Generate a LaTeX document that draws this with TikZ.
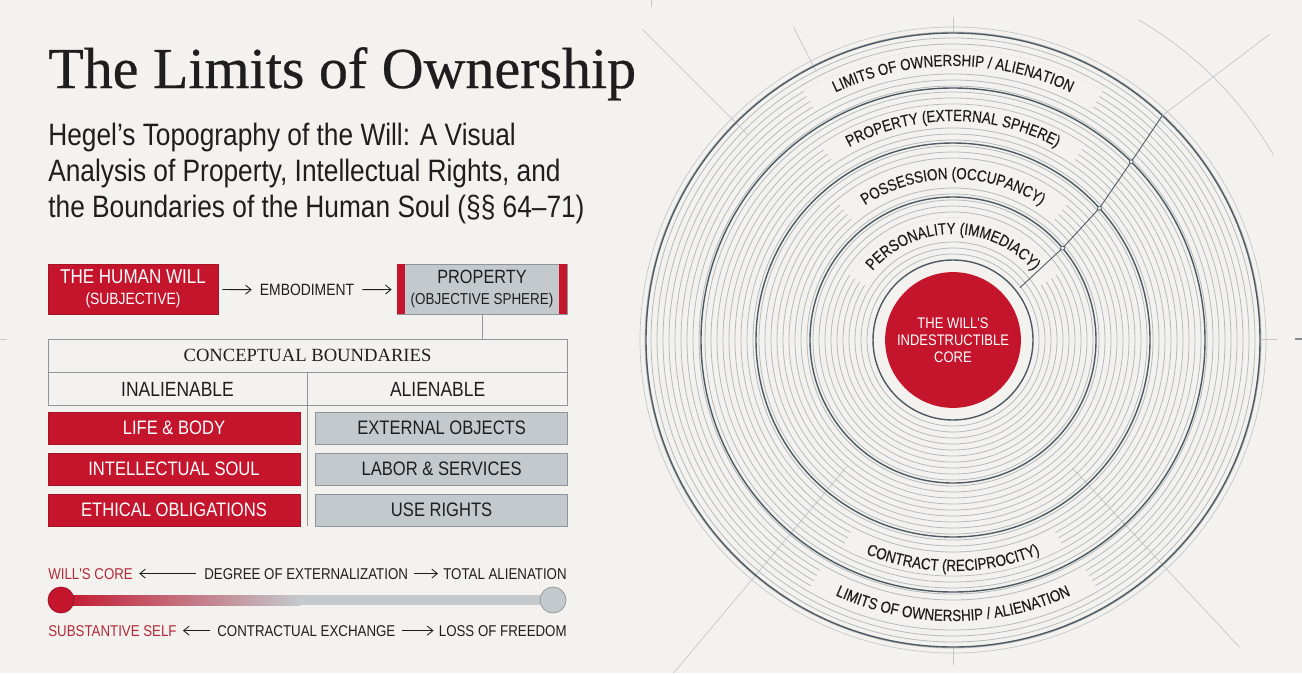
\documentclass[tikz,border=0pt]{standalone}
\usepackage{fontspec}
\setmainfont{Liberation Serif}
\newfontfamily\titlefont[FakeBold=0.5]{Liberation Serif}
\newfontfamily\condsans[FakeStretch=0.85]{Liberation Sans}
\newfontfamily\ringsans[FakeStretch=0.83, FakeBold=0.3]{Liberation Sans}
\usetikzlibrary{arrows.meta, positioning, calc, decorations.text}
\definecolor{paper}{HTML}{F3F2EE}
\definecolor{willRed}{HTML}{C4152D}
\definecolor{redText}{HTML}{B3293A}
\definecolor{cellGrey}{HTML}{C4C9CD}
\definecolor{cellEdge}{HTML}{8E959B}
\definecolor{inkDark}{HTML}{1E1E1E}
\definecolor{ringLight}{HTML}{B4B9BE}
\definecolor{ringDark}{HTML}{4D5963}

\begin{document}
\begin{tikzpicture}[x=0.02cm, y=0.02cm,
  redbox/.style={fill=willRed, draw=willRed!85!black, text=white, minimum width=3.4cm,
                 minimum height=1cm, align=center, inner sep=0pt, font=\condsans},
  greybox/.style={fill=cellGrey, draw=cellEdge, text=inkDark, minimum width=3.4cm,
                  minimum height=1cm, align=center, inner sep=0pt, font=\condsans},
  cellred/.style={fill=willRed, draw=willRed!85!black, text=white, minimum width=5.04cm,
                  minimum height=0.64cm, inner sep=0pt, font=\condsans\fontsize{11.1}{13}\selectfont},
  cellgrey/.style={fill=cellGrey, draw=cellEdge, text=inkDark, minimum width=5.04cm,
                   minimum height=0.64cm, inner sep=0pt, font=\condsans\fontsize{11.1}{13}\selectfont},
  tcell/.style={draw=cellEdge, minimum height=0.66cm, inner sep=0pt, text=inkDark},
  scl/.style={inner sep=0pt, font=\condsans\fontsize{8.9}{10}\selectfont, text=inkDark},
  a/.style={-{Straight Barb[length=1.1mm, width=1.8mm]}, line width=0.5pt, draw=inkDark},
  thinring/.style={draw=ringLight, line width=0.45pt},
  darkring/.style={draw=ringDark, line width=0.8pt},
  faint/.style={draw=ringLight!80, line width=0.4pt},
  gap/.style={draw=paper, line width=0.42cm},
  ringtxt/.style={decorate, decoration={text along path, text align=center,
                  text={|\ringsans\fontsize{9.2}{11}\selectfont\color{inkDark}|#1}}}
]
\fill[paper] (0,0) rectangle (1302,-673);
\useasboundingbox (0,0) rectangle (1302,-673);

% crop marks
\draw[faint] (0,-339) -- (7,-339);
\draw[faint] (1262,-339) -- (1277,-339);
\draw[ringDark!70, line width=0.6pt] (1295,-339) -- (1302,-339);
\draw[faint] (651,0) -- (651,-7);

% title block
\node[anchor=base west, inner sep=0pt, text=inkDark, font=\titlefont\fontsize{33}{36}\selectfont] (title) at (48,-88) {The Limits of Ownership};
\node[anchor=base west, inner sep=0pt, text=inkDark, font=\condsans\fontsize{17.6}{20}\selectfont] (sub1) at (48,-145) {Hegel’s Topography of the Will: A Visual};
\node[anchor=base west, inner sep=0pt, text=inkDark, font=\condsans\fontsize{17.6}{20}\selectfont] (sub2) at (48,-181) {Analysis of Property, Intellectual Rights, and};
\node[anchor=base west, inner sep=0pt, text=inkDark, font=\condsans\fontsize{17.6}{20}\selectfont] (sub3) at (48,-217) {the Boundaries of the Human Soul (§§ 64–71)};

% will -> property
\node[redbox] (will) at (133,-289) {{\fontsize{11.4}{13}\selectfont THE HUMAN WILL}\\{\fontsize{9.3}{10}\selectfont (SUBJECTIVE)}};
\node[font=\condsans\fontsize{9.3}{11}\selectfont, text=inkDark] (emb) at (307,-290) {EMBODIMENT};
\node[greybox] (prop) at (482,-289) {{\fontsize{10.9}{13}\selectfont PROPERTY}\\{\fontsize{9}{10}\selectfont (OBJECTIVE SPHERE)}};
\fill[willRed] (prop.north west) rectangle ([xshift=0.16cm]prop.south west);
\fill[willRed] (prop.north east) rectangle ([xshift=-0.16cm]prop.south east);
\draw[a, shorten <=0.08cm, shorten >=0.04cm] (will) -- (emb);
\draw[a, shorten <=0.04cm, shorten >=0.1cm] (emb) -- (prop);

% boundaries table
\node[tcell, minimum width=10.38cm, font=\fontsize{10.6}{12}\selectfont] (hdr) at (307.5,-355.5) {CONCEPTUAL BOUNDARIES};
\node[tcell, minimum width=5.18cm, anchor=north west, font=\condsans\fontsize{11.7}{13}\selectfont] (inal) at (hdr.south west) {INALIENABLE};
\node[tcell, minimum width=5.2cm, anchor=north west, font=\condsans\fontsize{11.7}{13}\selectfont] (alien) at (inal.north east) {ALIENABLE};
\draw[cellEdge] (prop.south) -- (prop.south |- hdr.north);

\node[cellred] (life) at (174,-428) {LIFE \& BODY};
\node[cellred, below=0.17cm of life] (soul) {INTELLECTUAL SOUL};
\node[cellred, below=0.16cm of soul] (ethic) {ETHICAL OBLIGATIONS};
\node[cellgrey, right=0.3cm of life] (objects) {EXTERNAL OBJECTS};
\node[cellgrey, right=0.3cm of soul] (labor) {LABOR \& SERVICES};
\node[cellgrey, right=0.3cm of ethic] (userights) {USE RIGHTS};
\draw[cellEdge] (inal.south east) -- (inal.south east |- ethic.south);

% externalization scale
\node[scl, anchor=base west, text=redText] (wcore) at (48,-579) {WILL'S CORE};
\node[scl, anchor=base west] (degree) at (204,-579) {DEGREE OF EXTERNALIZATION};
\node[scl, anchor=base east] (total) at (567,-579) {TOTAL ALIENATION};
\draw[a, shorten <=0.16cm, shorten >=0.12cm] (degree) -- (wcore);
\draw[a, shorten <=0.12cm, shorten >=0.1cm] (degree) -- (total);

\shade[left color=willRed, right color=cellGrey] (61,-595) rectangle (300,-605);
\fill[cellGrey] (300,-595) rectangle (553,-605);
\node[circle, fill=willRed, draw=willRed!80!black, minimum size=0.52cm, inner sep=0pt] (lo) at (61,-600) {};
\node[circle, fill=cellGrey, draw=cellEdge, minimum size=0.52cm, inner sep=0pt] (hi) at (553,-600) {};

\node[scl, anchor=base west, text=redText] (self) at (48,-636) {SUBSTANTIVE SELF};
\node[scl, anchor=base west] (exch) at (217,-636) {CONTRACTUAL EXCHANGE};
\node[scl, anchor=base east] (loss) at (567,-636) {LOSS OF FREEDOM};
\draw[a, shorten <=0.14cm, shorten >=0.12cm] (exch) -- (self);
\draw[a, shorten <=0.12cm, shorten >=0.1cm] (exch) -- (loss);

% topography of the will
\coordinate (c) at (953,-340);
\draw[faint] ($(c)+(135:290)$) -- ($(c)+(135:440)$);
\draw[faint] ($(c)+(117:303)$) -- ($(c)+(117:351)$);
\draw[faint] ($(c)+(230:165)$) -- ($(c)+(230:435)$);
\draw[faint] ($(c)+(-47:175)$) -- ($(c)+(-47:420)$);
\draw[faint] ($(c)+(30:370)$) arc[start angle=30, end angle=60, radius=370];
\draw[faint] ($(c)+(90:307)$) -- ($(c)+(90:323)$);
\draw[faint] ($(c)+(270:307)$) -- ($(c)+(270:325)$);

\foreach \r in {86,92,...,313}
  \draw[thinring] (c) circle[radius=\r];
\draw[faint] (c) circle[radius=313];

\foreach \r/\h in {280/31, 225/34, 167/40, 112/58}
  \draw[gap] ($(c)+({90+\h}:\r)$) arc[start angle=90+\h, end angle=90-\h, radius=\r];
\foreach \r/\h in {225/28, 275/30}
  \draw[gap] ($(c)+({270-\h}:\r)$) arc[start angle=270-\h, end angle=270+\h, radius=\r];

\foreach \r in {80,143,197,252,307}
  \draw[darkring] (c) circle[radius=\r];

\coordinate (p0) at ($(c)+(38:85)$);
\coordinate (p1) at ($(c)+(40:143)$);
\coordinate (p2) at ($(c)+(42:197)$);
\coordinate (p3) at ($(c)+(45:252)$);
\coordinate (p4) at ($(c)+(47:307)$);
\coordinate (p5) at ($(c)+(44:440)$);
\draw[ringDark, line width=0.5pt] (p0) -- (p1) -- (p2) -- (p3) -- (p4);
\draw[faint] (p4) -- (p5);
\foreach \p in {p1,p2,p3}
  \filldraw[fill=paper, draw=ringDark, line width=0.4pt] (\p) circle[radius=2];

\path[ringtxt={LIMITS OF OWNERSHIP / ALIENATION}] ($(c)+(150:274)$) arc[start angle=150, end angle=30, radius=274];
\path[ringtxt={PROPERTY (EXTERNAL SPHERE)}] ($(c)+(150:219)$) arc[start angle=150, end angle=30, radius=219];
\path[ringtxt={POSSESSION (OCCUPANCY)}] ($(c)+(160:161)$) arc[start angle=160, end angle=20, radius=161];
\path[ringtxt={PERSONALITY (IMMEDIACY)}] ($(c)+(170:106)$) arc[start angle=170, end angle=10, radius=106];
\path[ringtxt={CONTRACT (RECIPROCITY)}] ($(c)+(210:231)$) arc[start angle=210, end angle=330, radius=231];
\path[ringtxt={LIMITS OF OWNERSHIP / ALIENATION}] ($(c)+(210:281)$) arc[start angle=210, end angle=330, radius=281];

\node[circle, fill=willRed, minimum size=2.6cm, text=white, align=center,
      font=\condsans\fontsize{8.7}{9.6}\selectfont] (core) at (c) {THE WILL'S\\INDESTRUCTIBLE\\CORE};
\end{tikzpicture}
\end{document}
